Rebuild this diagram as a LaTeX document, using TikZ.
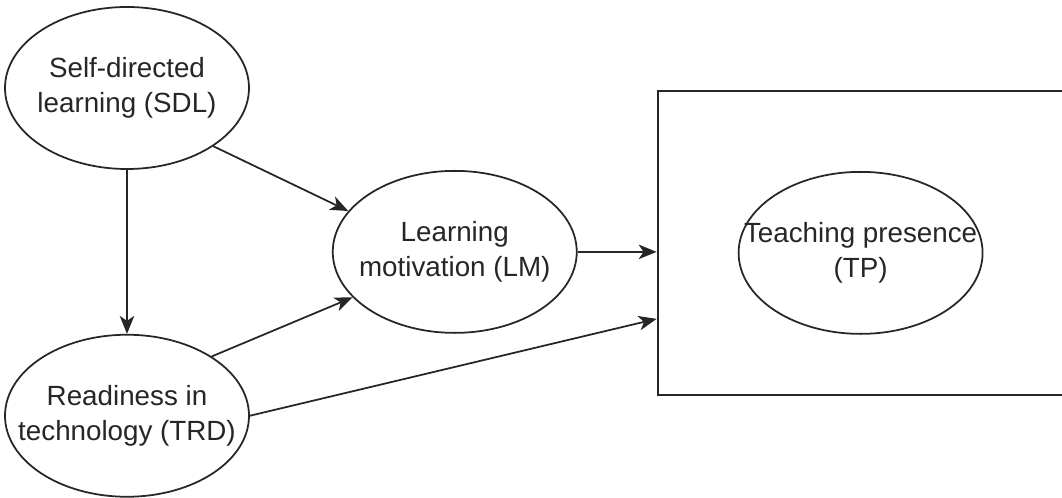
\documentclass[tikz,border=0pt]{standalone}
\usepackage{fontspec}
\setmainfont{Liberation Sans}
\usepackage{tikz}
\usetikzlibrary{shapes.geometric, arrows.meta, positioning, calc}

\begin{document}
\begin{tikzpicture}[
  latent/.style={ellipse, draw=black!85, line width=1pt, fill=white,
             minimum width=4.88cm, minimum height=3.24cm,
             inner xsep=-3cm, inner ysep=-3cm, align=center,
             text=black!85, font=\fontsize{15.8}{19.8}\selectfont},
  outerbox/.style={rectangle, draw=black!85, line width=1.1pt,
             minimum width=8.12cm, minimum height=6.08cm},
  arrow/.style={-{Stealth[length=3.6mm, width=2.9mm, inset=1mm]}, line width=1pt, color=black!85}
]
\useasboundingbox (0,0) rectangle (21.24,9.96);

\node[latent] (SDL) at (2.54,8.20) {Self-directed\\learning (SDL)};
\node[latent, below=3.28cm of SDL] (TRD) {Readiness in\\technology (TRD)};
\coordinate (mid) at ($(SDL.east)!0.5!(TRD.east)$);
\node[latent, right=1.64cm of mid] (LM) {Learning\\motivation (LM)};
\node[outerbox, right=1.58cm of LM, yshift=0.18cm] (box) {};
\node[latent, fill=none] (TP) at ([yshift=-0.2cm]box.center) {Teaching presence\\(TP)};

\draw[arrow] (SDL.south) -- (TRD.north);
\draw[arrow] (SDL.-34) -- (LM.159);
\draw[arrow] (TRD.35) -- (LM.-156);
\draw[arrow] (LM.east) -- (LM.east -| box.west);
\draw[arrow] (TRD.east) -- ([yshift=-1.52cm]box.west);

\end{tikzpicture}
\end{document}
